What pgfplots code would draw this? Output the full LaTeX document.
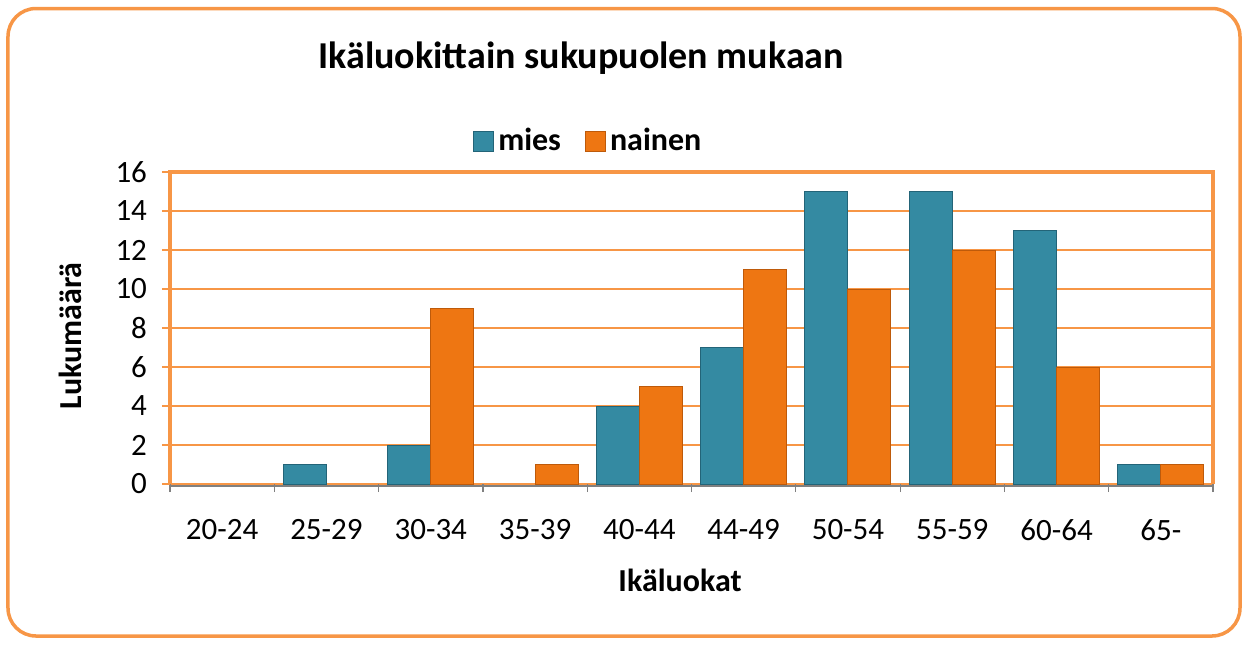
\documentclass[border=0pt]{standalone}
\usepackage{fontspec}
\setmainfont{Carlito}
\usepackage{pgfplots}
\pgfplotsset{compat=1.18}
\definecolor{miescol}{RGB}{52,138,162}
\definecolor{miesdark}{RGB}{35,100,120}
\definecolor{naincol}{RGB}{238,118,18}
\definecolor{naindark}{RGB}{190,90,10}
\definecolor{gridor}{RGB}{247,150,70}
\definecolor{axgrey}{RGB}{128,128,128}

\begin{document}
\begin{tikzpicture}
\path (-85pt,-80.5pt) rectangle (536.5pt,242pt);
\draw[gridor, line width=1.75pt, rounded corners=14pt] (-81pt,-76pt) rectangle (535pt,237.75pt);
\node[font=\fontsize{19}{22}\selectfont\bfseries] at (205.5pt,213pt) {Ikäluokittain sukupuolen mukaan};
\begin{axis}[
    at={(0pt,0pt)}, anchor=south west,
    width=521.5pt, height=156pt, scale only axis,
    xmin=0, xmax=10, ymin=0, ymax=16,
    ytick={0,2,...,16},
    xtick={0.5,1.5,...,9.5},
    xticklabels={20-24,25-29,30-34,35-39,40-44,44-49,50-54,55-59,60-64,65-},
    minor xtick={0,1,...,10},
    xtick pos=bottom, ytick pos=left,
    major x tick style={draw=none},
    minor x tick style={draw=axgrey, line width=0.6pt},
    minor tick length=4pt,
    ytick style={draw=gridor, line width=0.7pt},
    major tick length=4pt,
    tick align=outside,
    ymajorgrids,
    grid style={gridor, line width=0.75pt},
    axis line style={draw=none},
    tick label style={font=\fontsize{15.5}{18}\selectfont},
    xticklabel style={yshift=-10pt},
    yticklabel style={xshift=-4pt},
    /pgf/number format/assume math mode=true,
    xlabel={Ikäluokat},
    ylabel={Lukumäärä},
    every axis x label/.style={at={(rel axis cs:0.489,0)}, anchor=center, yshift=-48pt,
        font=\fontsize{16}{19}\selectfont\bfseries},
    every axis y label/.style={at={(-50pt,74pt)}, rotate=90, anchor=center,
        font=\fontsize{16}{19}\selectfont\bfseries},
    ybar, bar width=21.5pt,
    restrict y to domain=0.5:100,
    legend style={draw=none, fill=none, at={(rel axis cs:0.402,1)}, anchor=center, yshift=15.5pt,
        font=\fontsize{16}{19}\selectfont\bfseries, legend columns=2,
        /tikz/every even column/.append style={column sep=10pt}},
    legend image code/.code={\draw[#1] (0pt,-5pt) rectangle (10pt,5pt);},
    clip=false,
]
\addplot[fill=miescol, draw=miesdark, line width=0.5pt, bar shift=-10.75pt] coordinates {
    (0.5,0) (1.5,1) (2.5,2) (3.5,0) (4.5,4) (5.5,7) (6.5,15) (7.5,15) (8.5,13) (9.5,1)
};
\addplot[fill=naincol, draw=naindark, line width=0.5pt, bar shift=10.75pt] coordinates {
    (0.5,0) (1.5,0) (2.5,9) (3.5,1) (4.5,5) (5.5,11) (6.5,10) (7.5,12) (8.5,6) (9.5,1)
};
\legend{mies, nainen}
\draw[gridor, line width=2pt] (rel axis cs:0,0) -- (rel axis cs:0,1) -- (rel axis cs:1,1) -- (rel axis cs:1,0);
\draw[axgrey, line width=0.8pt] ([yshift=-1pt]rel axis cs:0,0) -- ([yshift=-1pt]rel axis cs:1,0);
\end{axis}
\end{tikzpicture}
\end{document}
